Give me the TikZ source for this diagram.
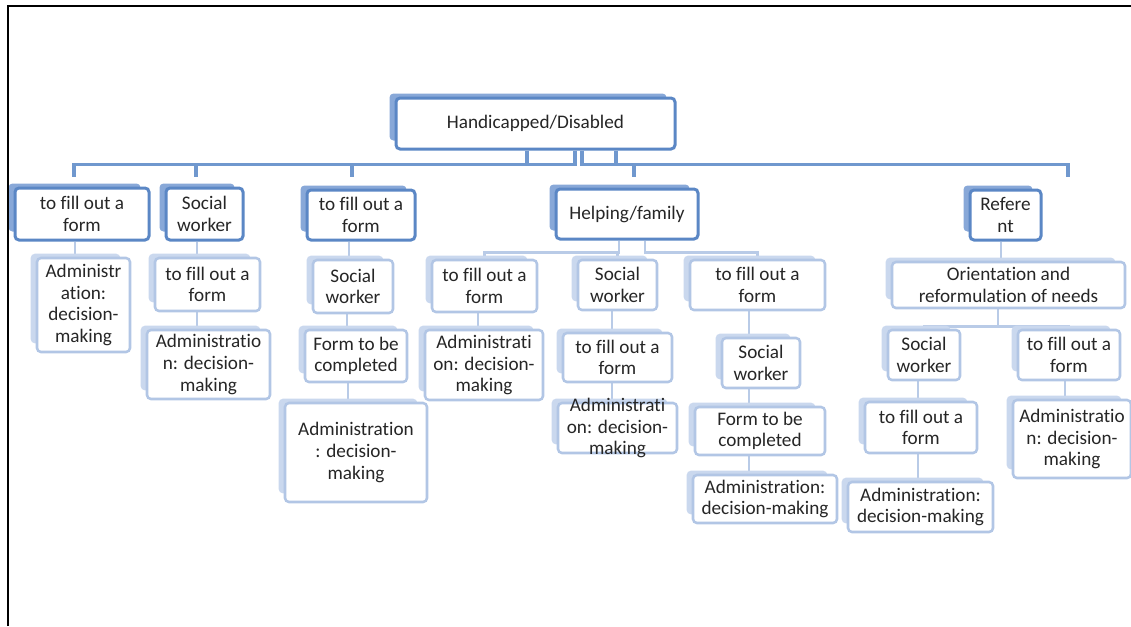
\documentclass[tikz,border=0pt]{standalone}
\usepackage{fontspec}
\setmainfont{Carlito}[Ligatures=NoCommon]
\pgfdeclarelayer{conn}
\pgfdeclarelayer{shd}
\pgfsetlayers{conn,shd,main}
\definecolor{dk}{HTML}{5B87C5}
\definecolor{dkshd}{HTML}{88A8D8}
\definecolor{busc}{HTML}{7098CE}
\definecolor{lt}{HTML}{B2C6E5}
\definecolor{ltshd}{HTML}{CAD8EE}
\definecolor{lcc}{HTML}{B9CBE7}
\definecolor{txt}{HTML}{262626}
\begin{document}
\begin{tikzpicture}[x=0.75pt,y=-0.75pt,
 base/.style={rounded corners=3pt, align=center, inner sep=0pt, fill=white,
   font=\fontsize{14.4}{16.3}\selectfont, text=txt},
 lvone/.style={base, draw=dk, line width=2.25pt},
 lvtwo/.style={base, draw=lt, line width=1.9pt},
 sz/.style 2 args={minimum width=#1*0.75pt, minimum height=#2*0.75pt},
 busline/.style={draw=busc, line width=2.4pt},
 lcon/.style={draw=lcc, line width=2.2pt}]
\useasboundingbox (0,0) rectangle (1131,626);
\draw[line width=1.5pt] (8,626) -- (8,6) -- (1131,6);

% level 0 and 1
\node[lvone, sz={279}{51}] (root) at (535.5,123.5) {Handicapped/Disabled};
\node[lvone, sz={134}{52}] (A1) at (82,214) {to fill out a\\form};
\node[lvone, sz={77}{52}] (A2) at (204.5,214) {Social\\worker};
\node[lvone, sz={108}{50}] (A3) at (361,215) {to fill out a\\form};
\node[lvone, sz={142}{50}] (H) at (627,214) {Helping/family};
\node[lvone, sz={71}{50}] (R) at (1005.5,215) {Refere\\nt};

% lower levels
\node[lvtwo, sz={93}{94}] (A1c) at (83.5,305) {Administr\\ation:\\decision-\\making};
\node[lvtwo, sz={105}{53}] (A2c1) at (207.5,284.5) {to fill out a\\form};
\node[lvtwo, sz={123}{69}] (A2c2) at (208.5,364.5) {Administratio\\n: decision-\\making};
\node[lvtwo, sz={80}{53}] (A3c1) at (353,286.5) {Social\\worker};
\node[lvtwo, sz={102}{52}] (A3c2) at (356,356) {Form to be\\completed};
\node[lvtwo, sz={142}{99}] (A3c3) at (356,452.5) {Administration\\: decision-\\making};
\node[lvtwo, sz={105}{52}] (H1) at (484.5,286) {to fill out a\\form};
\node[lvtwo, sz={118}{70}] (H1c) at (484,365) {Administrati\\on: decision-\\making};
\node[lvtwo, sz={79}{50}] (H2) at (617.5,285) {Social\\worker};
\node[lvtwo, sz={109}{49}] (H2c1) at (617.5,357.5) {to fill out a\\form};
\node[lvtwo, sz={119}{50}, inner ysep=-4.5pt] (H2c2) at (617.5,428) {Administrati\\on: decision-\\making};
\node[lvtwo, sz={135}{50}] (H3) at (757.5,285) {to fill out a\\form};
\node[lvtwo, sz={78}{50}] (H3c1) at (761,363) {Social\\worker};
\node[lvtwo, sz={130}{48}] (H3c2) at (760,431) {Form to be\\completed};
\node[lvtwo, sz={144}{48}] (H3c3) at (765,499) {Administration:\\decision-making};
\node[lvtwo, sz={233}{46}] (Ro) at (1008.5,285) {Orientation and\\reformulation of needs};
\node[lvtwo, sz={72}{50}] (Rs) at (924,355) {Social\\worker};
\node[lvtwo, sz={102}{50}] (Rf) at (1069,355) {to fill out a\\form};
\node[lvtwo, sz={112}{51}] (Rs2) at (921,427.5) {to fill out a\\form};
\node[lvtwo, sz={145}{50}] (Rs3) at (920.5,507) {Administration:\\decision-making};
\node[lvtwo, sz={118}{78}] (Rf2) at (1072,439) {Administratio\\n: decision-\\making};

% stacked back boxes
\begin{pgfonlayer}{shd}
\foreach \n in {root,A1,A2,A3,H,R}
  \fill[dkshd, rounded corners=3pt] ([shift={(-5,-3)}]\n.north west) rectangle ([shift={(-10,-10)}]\n.south east);
\foreach \n in {A1c,A2c1,A2c2,A3c1,A3c2,A3c3,H1,H1c,H2,H2c1,H2c2,H3,H3c1,H3c2,H3c3,Ro,Rs,Rf,Rs2,Rs3,Rf2}
  \fill[ltshd, rounded corners=3pt] ([shift={(-5,-3)}]\n.north west) rectangle ([shift={(-11,-10)}]\n.south east);
\end{pgfonlayer}

% connectors
\begin{pgfonlayer}{conn}
\coordinate (d1) at (74,177);
\coordinate (d2) at (196,177);
\coordinate (d3) at (352,177);
\coordinate (d4) at (634,177);
\coordinate (d5) at (1068,177);
\draw[busline] (root.south -| 527,0) -- ++(0,14) -| (d1);
\draw[busline] (root.south -| 527,0) -- ++(0,14) -| (d2);
\draw[busline] (root.south -| 575,0) -- ++(0,14) -| (d3);
\draw[busline] (root.south -| 616,0) -- ++(0,14) -| (d4);
\draw[busline] (root.south -| 582,0) -- ++(0,14) -| (d5);

\draw[lcon] (A1.south -| 75,0) -- (A1c.north -| 75,0);
\draw[lcon] (A2.south -| 197,0) -- (A2c1.north -| 197,0);
\draw[lcon] (A2c1.south -| 197,0) -- (A2c2.north -| 197,0);
\draw[lcon] (A3.south -| 349,0) -- (A3c1.north -| 349,0);
\draw[lcon] (A3c1.south -| 347,0) -- (A3c2.north -| 347,0);
\draw[lcon] (A3c2.south -| 348,0) -- (A3c3.north -| 348,0);

\draw[lcon] (H.south -| 619,0) -- ++(0,12) -| (H1.north);
\draw[lcon] (H.south -| 619,0) -- ++(0,12) -| (H2.north);
\draw[lcon] (H.south -| 645,0) -- ++(0,12) -| (H3.north);
\draw[lcon] (H1.south -| 478,0) -- (H1c.north -| 478,0);
\draw[lcon] (H2.south -| 612,0) -- (H2c1.north -| 612,0);
\draw[lcon] (H2c1.south -| 612,0) -- (H2c2.north -| 612,0);
\draw[lcon] (H3.south -| 749,0) -- (H3c1.north -| 749,0);
\draw[lcon] (H3c1.south -| 749,0) -- (H3c2.north -| 749,0);
\draw[lcon] (H3c2.south -| 749,0) -- (H3c3.north -| 749,0);

\draw[lcon] (R.south -| 1001,0) -- (Ro.north -| 1001,0);
\draw[lcon] (Ro.south -| 998,0) -- ++(0,17) -| (Rs.north);
\draw[lcon] (Ro.south -| 998,0) -- ++(0,17) -| (Rf.north);
\draw[lcon] (Rs.south -| 918,0) -- (Rs2.north -| 918,0);
\draw[lcon] (Rs2.south -| 918,0) -- (Rs3.north -| 918,0);
\draw[lcon] (Rf.south -| 1065,0) -- (Rf2.north -| 1065,0);
\end{pgfonlayer}
\end{tikzpicture}
\end{document}
